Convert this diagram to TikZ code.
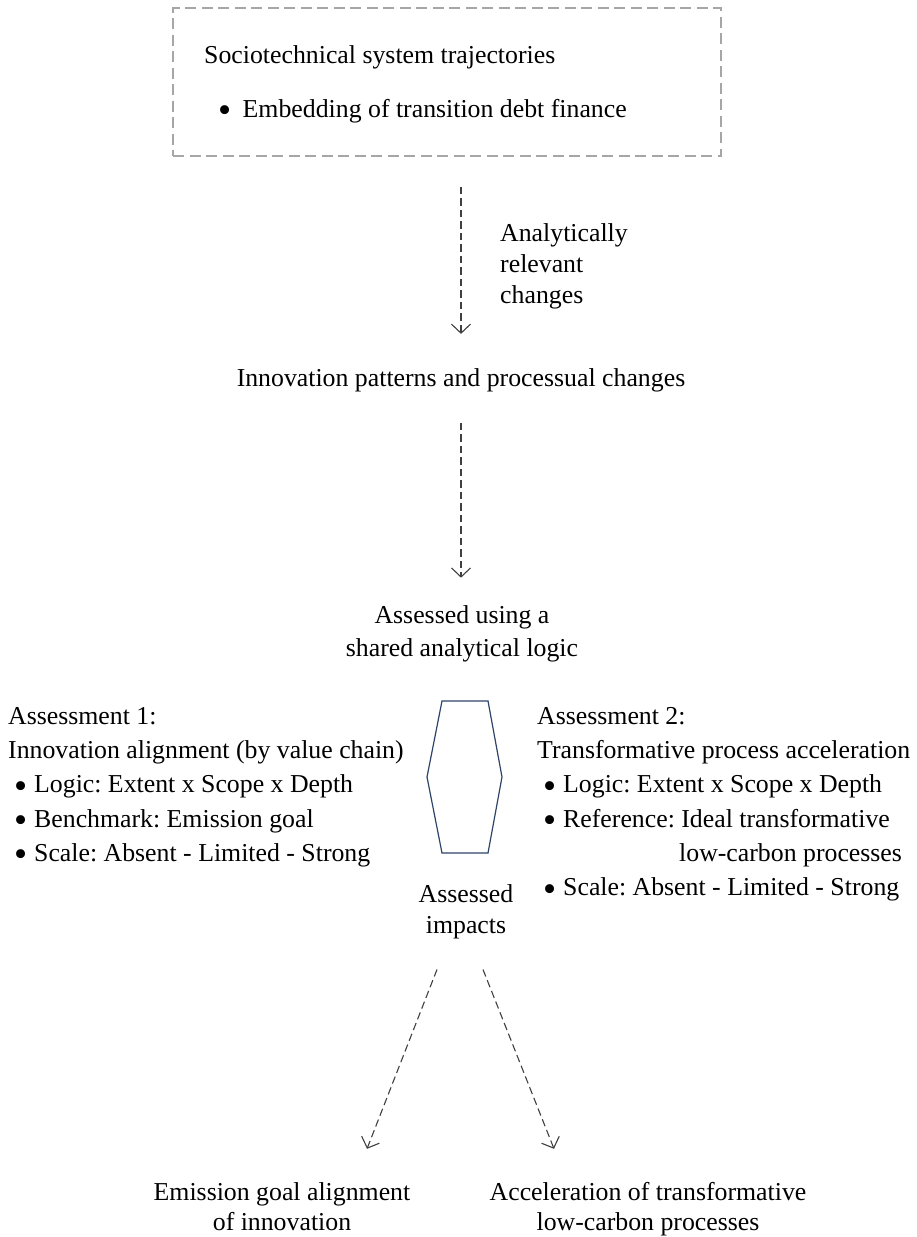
\documentclass[tikz,border=0pt]{standalone}
\usepackage{fontspec}
\usepackage{graphicx}
\setmainfont{Liberation Serif}
\usetikzlibrary{arrows.meta,calc}
\definecolor{boxgray}{HTML}{A6A6A6}
\definecolor{arrgray}{HTML}{404040}
\definecolor{hexblue}{HTML}{2F4468}
\newcommand{\bigbul}{\raisebox{-5.5pt}{\scalebox{1.45}{\textbullet}}}
\newcommand{\mybul}{\hspace*{6pt}\makebox[20pt][l]{\bigbul}}
\frenchspacing
\begin{document}
\begin{tikzpicture}[x=1pt,y=-1pt,
  txt/.style={inner sep=0pt, text=black, font=\fontsize{25.8}{31}\selectfont},
  listtxt/.style={txt, font=\fontsize{25.8}{34.2}\selectfont},
  arr/.style={draw=arrgray, line width=1.1pt, dash pattern=on 7.5pt off 4pt,
    -{Straight Barb[length=9pt,width=19pt]}},
  topbox/.style={draw=boxgray, line width=1.5pt, dash pattern=on 11pt off 5.5pt,
    minimum width=548pt, minimum height=148pt, inner sep=0pt},
  hexline/.style={draw=hexblue, line width=1.2pt, line join=miter}]
\fill[white] (0,0) rectangle (916,1237);
\useasboundingbox (0,0) rectangle (916,1237);

% top dashed box
\node[topbox] (box) at (447,82) {};
\node[txt, anchor=base west] (soc) at (204,63) {Sociotechnical system trajectories};
\node[txt, anchor=base west] (emb) at (204,117) {\hspace*{14pt}\makebox[24.5pt][l]{\bigbul}Embedding of transition debt finance};

% innovation patterns
\node[txt, anchor=base] (innov) at (461,386) {Innovation patterns and processual changes};
\draw[arr, shorten <=30pt, shorten >=34pt] (innov.north |- box.south) -- (innov.north);
\node[txt, anchor=base west] (lab) at (500,241) {\begin{tabular}[t]{@{}l@{}}Analytically\\relevant\\changes\end{tabular}};

% shared logic
\node[txt, font=\fontsize{25.8}{33}\selectfont, anchor=base] (assess) at (462,623) {\begin{tabular}[t]{@{}c@{}}Assessed using a\\shared analytical logic\end{tabular}};
\draw[arr, shorten <=31pt, shorten >=22pt] (innov.south) -- (innov.south |- assess.north);

% hexagon
\draw[hexline] (442,701) -- (488,701) -- (502,777) -- (488,853) -- (442,853) -- (427,777) -- cycle;

% assessments
\node[listtxt, anchor=base west] (as1) at (8,724.5) {\begin{tabular}[t]{@{}l@{}}Assessment 1:\\Innovation alignment (by value chain)\\\mybul Logic: Extent x Scope x Depth\\\mybul Benchmark: Emission goal\\\mybul Scale: Absent - Limited - Strong\end{tabular}};
\node[listtxt, anchor=base west] (as2) at (537,724.5) {\begin{tabular}[t]{@{}l@{}}Assessment 2:\\Transformative process acceleration\\\mybul Logic: Extent x Scope x Depth\\\mybul Reference: Ideal transformative\\\hspace*{142pt}low-carbon processes\\\mybul Scale: Absent - Limited - Strong\end{tabular}};

% assessed impacts
\node[txt, anchor=base] (imp) at (466,902) {\begin{tabular}[t]{@{}c@{}}Assessed\\impacts\end{tabular}};

% outcomes
\node[txt, font=\fontsize{25.8}{30}\selectfont, anchor=base] (goal) at (282,1200) {\begin{tabular}[t]{@{}c@{}}Emission goal alignment\\of innovation\end{tabular}};
\node[txt, font=\fontsize{25.8}{30}\selectfont, anchor=base] (accel) at (648,1200) {\begin{tabular}[t]{@{}c@{}}Acceleration of transformative\\low-carbon processes\end{tabular}};

\draw[arr] ($(imp.south)+(-29,27)$) -- ($(goal.north)+(85,-30)$);
\draw[arr] ($(imp.south)+(17,27)$) -- ($(accel.north)+(-94,-30)$);
\end{tikzpicture}
\end{document}
